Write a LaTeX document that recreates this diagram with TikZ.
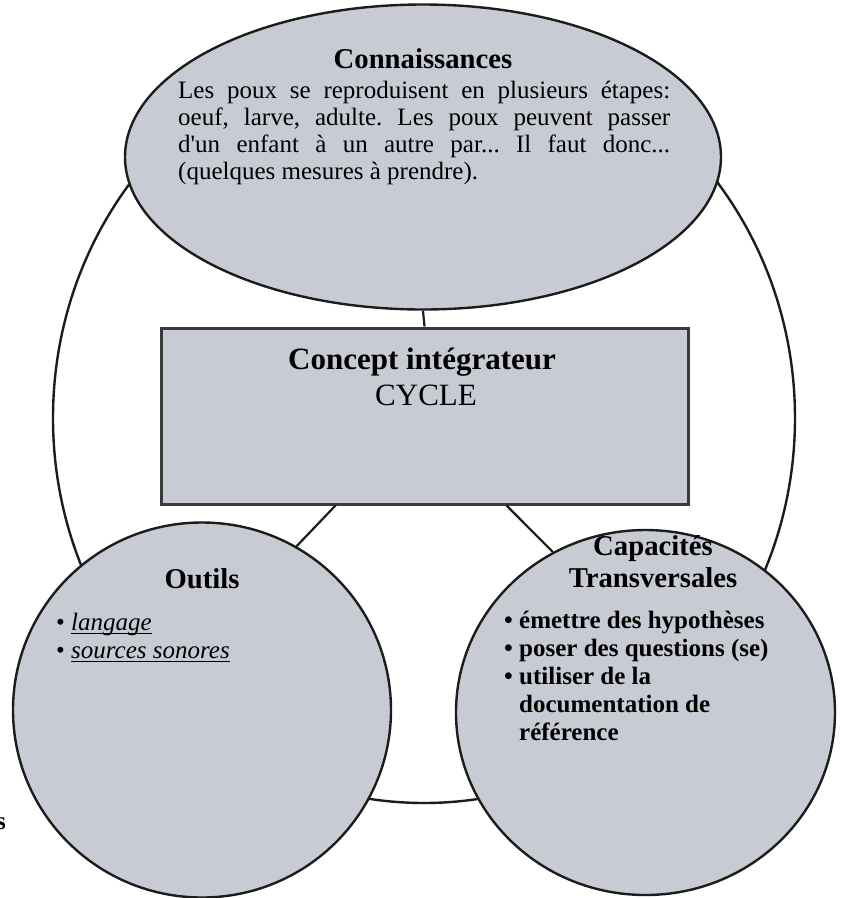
\documentclass[tikz,border=0pt]{standalone}
\usepackage{fontspec}
\setmainfont{Liberation Serif}[Ligatures=TeXOff]
\frenchspacing
\newcommand{\myul}[1]{\setbox0\hbox{#1}\rlap{\vrule height -2.6pt depth 4.3pt width \wd0}\box0}
\usetikzlibrary{shapes.geometric,calc}
\definecolor{shapefill}{RGB}{200,203,211}
\definecolor{edgeline}{RGB}{28,28,28}
\definecolor{boxline}{RGB}{58,58,58}
\tikzset{
  bigring/.style={ellipse, draw=edgeline, line width=2.4pt, inner sep=0pt},
  blob/.style={ellipse, draw=edgeline, fill=shapefill, line width=2.4pt, inner sep=0pt},
  conceptbox/.style={rectangle, draw=boxline, fill=shapefill, line width=3pt, inner sep=0pt},
  link/.style={draw=edgeline, line width=2.2pt},
  headtxt/.style={inner sep=0pt, anchor=base, font=\fontsize{28.7}{32}\selectfont\bfseries},
  bodytxt/.style={inner sep=0pt, anchor=base west, align=left, font=\fontsize{25}{27}\selectfont\frenchspacing},
  listtxt/.style={inner sep=0pt, anchor=base west, align=left, font=\fontsize{25}{28}\selectfont},
  bigtxt/.style={inner sep=0pt, anchor=base, font=\fontsize{31}{36}\selectfont}
}
\begin{document}
\begin{tikzpicture}[x=1pt,y=-1pt]
\useasboundingbox (0,0) rectangle (841,898);
% outer ring
\node[bigring, minimum width=742pt, minimum height=770pt] (ring) at (424,418) {};
% shapes
\node[blob, minimum width=596pt, minimum height=305pt] (conn) at (423,157) {};
\node[conceptbox, minimum width=527pt, minimum height=176pt] (concept) at (424.5,416) {};
\node[blob, minimum width=378pt, minimum height=375pt] (outils) at (202,710) {};
\node[blob, minimum width=379pt, minimum height=365pt] (capa) at (645.5,712.5) {};
% connectors
\coordinate (cl) at ($(concept.south west)+(176,0)$);
\coordinate (cr) at ($(concept.south west)+(347,0)$);
\draw[link] (conn.south) -- (concept.north);
\draw[link] (cl) -- (outils.60);
\draw[link] (cr) -- (capa.120);
% texts: Connaissances (base = last line)
\node[headtxt] (connT) at (423,68) {Connaissances};
\node[bodytxt] (connB) at (178,179) {\makebox[492pt][s]{Les poux se reproduisent en plusieurs étapes:}\\
\makebox[492pt][s]{oeuf, larve, adulte. Les poux peuvent passer}\\
\makebox[492pt][s]{d'un enfant à un autre par... Il faut donc...}\\
(quelques mesures à prendre).};
% concept
\node[bigtxt, font=\fontsize{31}{36}\selectfont\bfseries] (conceptT) at (422,369) {Concept intégrateur};
\node[bigtxt] (conceptC) at (426,405) {CYCLE};
% outils
\node[headtxt] (outT) at (202,588) {Outils};
\node[listtxt] (outL) at (56,658) {\textbullet\ \myul{\textit{langage}}\\
\textbullet\ \myul{\textit{sources sonores}}};
% capacites
\node[headtxt] (capT1) at (653,555) {Capacités};
\node[headtxt] (capT2) at (653,587) {Transversales};
\node[listtxt, font=\fontsize{25}{28}\selectfont\bfseries] (capL) at (504,740) {\textbullet\ émettre des hypothèses\\
\textbullet\ poser des questions (se)\\
\textbullet\ utiliser de la\\
\hphantom{\textbullet\ }documentation de\\
\hphantom{\textbullet\ }référence};
% stray letter at left edge
\node[inner sep=0pt, anchor=base east, font=\fontsize{25}{28}\selectfont\bfseries] (stray) at (6,829) {s};
\end{tikzpicture}
\end{document}
